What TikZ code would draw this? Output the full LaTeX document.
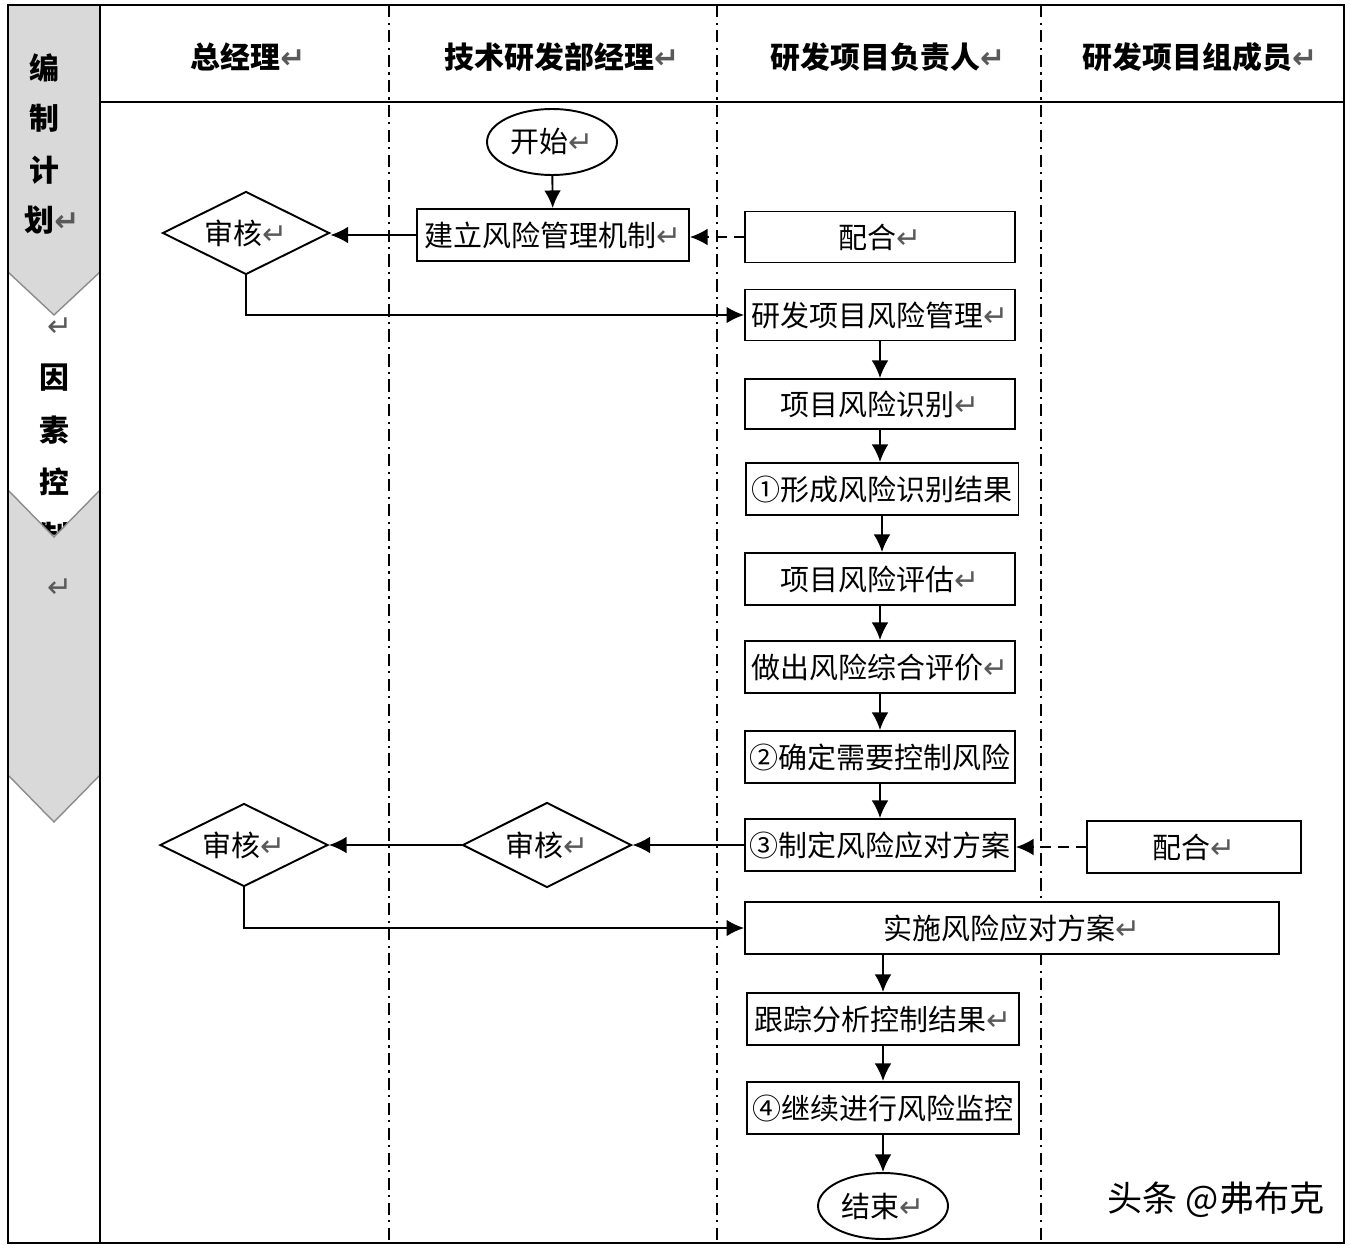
\documentclass[tikz,border=0pt]{standalone}
\usepackage{fontspec}
\setmainfont{Noto Sans CJK SC}
\newfontfamily\dvs{DejaVu Sans}
\usetikzlibrary{shapes.geometric,arrows.meta}
\newcommand{\pmark}{{\dvs\color{black!65}\fontsize{17}{17}\selectfont ↵}}
\begin{document}
\begin{tikzpicture}[x=0.02cm,y=-0.02cm,
  txt/.style={font=\fontsize{16.5}{18}\selectfont},
  box/.style={txt,draw,fill=white,line width=1.1pt,minimum width=5.4cm,minimum height=1.04cm,inner sep=0pt},
  dia/.style={txt,draw,fill=white,diamond,line width=1.1pt,inner sep=0pt,shape aspect=2,minimum width=3.36cm,minimum height=1.66cm},
  oval/.style={txt,draw,fill=white,ellipse,line width=1.1pt,minimum width=2.6cm,minimum height=1.32cm,inner sep=0pt},
  arr/.style={line width=1.1pt,-{Latex[length=10pt,width=9.5pt]}},
  darr/.style={arr,dash pattern=on 6pt off 4pt},
  lane/.style={line width=0.9pt,dash pattern=on 7pt off 3pt on 1.2pt off 3pt},
  hdr/.style={font=\bfseries\fontsize{17}{20}\selectfont},
  side/.style={font=\bfseries\fontsize{17}{20}\selectfont}]
\useasboundingbox (0,0) rectangle (1354,1250);
\fill[white] (0,0) rectangle (1354,1250);
% left column
\fill[black!15] (8,5) -- (100,5) -- (100,272) -- (54,315) -- (8,272) -- cycle;
\draw[black!45,line width=0.8pt] (8,272) -- (54,315) -- (100,272);
\node[side] (s1) at (44,68) {编};
\node[side] (s2) at (44,118) {制};
\node[side] (s3) at (44,170) {计};
\node[side] (s4) at (52,220) {划\pmark};
\node (p1) at (60,327) {\pmark};
\node[side] (s5) at (54,378) {因};
\node[side] (s6) at (54,430) {素};
\node[side] (s7) at (54,482) {控};
\node[side] (s8) at (54,536) {制};
\fill[black!15] (8,490) -- (54,537) -- (100,490) -- (100,775) -- (54,822) -- (8,775) -- cycle;
\draw[black!45,line width=0.8pt] (8,490) -- (54,537) -- (100,490);
\draw[black!45,line width=0.8pt] (8,775) -- (54,822) -- (100,775);
\node (p2) at (60,588) {\pmark};
% frame and lanes
\draw[lane] (389,5) -- (389,1243);
\draw[lane] (717,5) -- (717,1243);
\draw[lane] (1041,5) -- (1041,1243);
\draw[line width=1.1pt] (100,102) -- (1344,102);
\draw[line width=1.1pt] (100,5) -- (100,1243);
\draw[line width=1.2pt] (8,5) rectangle (1344,1243);
% headers
\node[hdr] (h1) at (248,57) {总经理\pmark};
\node[hdr] (h2) at (562,57) {技术研发部经理\pmark};
\node[hdr] (h3) at (888,57) {研发项目负责人\pmark};
\node[hdr] (h4) at (1200,57) {研发项目组成员\pmark};
% nodes
\node[oval] (start) at (552,142) {开始\pmark};
\node[box,minimum width=5.44cm] (jianli) at (553,235) {建立风险管理机制\pmark};
\node[dia,minimum width=3.34cm] (sh1) at (246,233) {审核\pmark};
\node[box,minimum height=1.02cm] (pei1) at (880,237) {配合\pmark};
\node[box,minimum height=1.02cm] (yanfa) at (880,315) {研发项目风险管理\pmark};
\node[box,minimum height=1.0cm] (shibie) at (880,404) {项目风险识别\pmark};
\node[box,minimum width=5.46cm] (xingcheng) at (882,489) {①形成风险识别结果};
\node[box] (pinggu) at (880,579) {项目风险评估\pmark};
\node[box] (zuochu) at (880,667) {做出风险综合评价\pmark};
\node[box] (queding) at (880,757) {②确定需要控制风险};
\node[box] (zhiding) at (880,845) {③制定风险应对方案};
\node[box,minimum width=4.28cm] (pei2) at (1194,847) {配合\pmark};
\node[dia,minimum width=3.38cm,minimum height=1.7cm] (sh3) at (547,845) {审核\pmark};
\node[dia] (sh2) at (244,845) {审核\pmark};
\node[box,minimum width=10.68cm] (shishi) at (1012,928) {实施风险应对方案\pmark};
\node[box,minimum width=5.44cm] (genzong) at (883,1019) {跟踪分析控制结果\pmark};
\node[box,minimum width=5.44cm] (jixu) at (883,1108) {④继续进行风险监控};
\node[oval] (end) at (883,1206) {结束\pmark};
% connectors
\draw[arr] (start) -- (jianli);
\draw[arr] (jianli.west) -- (jianli.west -| sh1.east);
\draw[darr] (pei1.west) -- (pei1.west -| jianli.east);
\draw[arr] (sh1.south) |- (yanfa.west);
\draw[arr] (yanfa) -- (shibie);
\draw[arr] (shibie.south) -- (shibie.south |- xingcheng.north);
\draw[arr] (xingcheng.south) -- (xingcheng.south |- pinggu.north);
\draw[arr] (pinggu) -- (zuochu);
\draw[arr] (zuochu) -- (queding);
\draw[arr] (queding) -- (zhiding);
\draw[darr] (pei2.west) -- (pei2.west -| zhiding.east);
\draw[arr] (zhiding.west) -- (sh3.east);
\draw[arr] (sh3.west) -- (sh2.east);
\draw[arr] (sh2.south) |- (shishi.west);
\draw[arr] (shishi.south -| genzong.north) -- (genzong.north);
\draw[arr] (genzong) -- (jixu);
\draw[arr] (jixu) -- (end);
% watermark
\node[font=\fontsize{20}{22}\selectfont] (wm) at (1216,1200) {头条 @弗布克};
\end{tikzpicture}
\end{document}
